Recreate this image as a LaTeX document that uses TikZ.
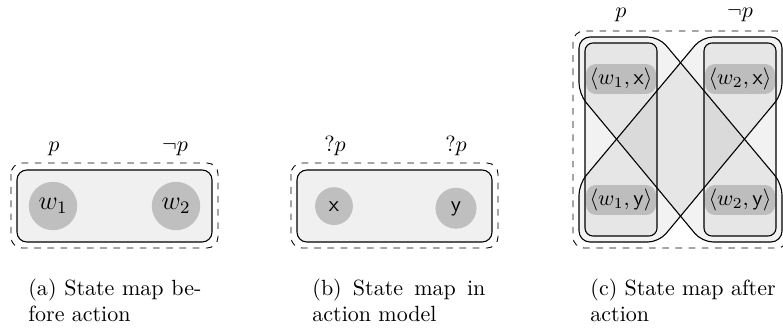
\documentclass[tikz,border=0pt]{standalone}
\definecolor{boxfill}{gray}{0.94}
\definecolor{circfill}{gray}{0.75}
\definecolor{pairfill}{gray}{0.74}
\begin{document}
\begin{tikzpicture}[x=0.4545pt,y=-0.4545pt,
  outerbox/.style={draw,dashed,rounded corners=5pt},
  innerbox/.style={draw,fill=boxfill,rounded corners=4.5pt,line width=0.5pt},
  world/.style={circle,fill=circfill,minimum size=22pt,inner sep=0pt,font=\large},
  event/.style={circle,fill=circfill,inner sep=3.8pt},
  lbl/.style={anchor=base,inner sep=0pt},
  xshape/.style={draw,fill=black,fill opacity=0.05,rounded corners=5pt,line width=0.5pt},
  column/.style={draw,fill=black,fill opacity=0.05,rounded corners=3.6pt,line width=0.5pt},
  pairlbl/.style={fill=pairfill,rounded corners=4.5pt,minimum width=31.8pt,minimum height=13.6pt,inner sep=0pt},
  captext/.style={anchor=base west,inner sep=0pt}]
\useasboundingbox (0,0) rectangle (783,329);
\begin{scope}
\clip (0,0) rectangle (783,329);
% ---------- panel (a)
\draw[outerbox] (11,163) rectangle (218,248);
\draw[innerbox] (17,170) rectangle (212,242);
\node[world] (w1) at (53,206) {$w_1$};
\node[world] (w2) at (176,206) {$w_2$};
\node[lbl] (pa) at (54,151) {$p$};
\node[lbl] (npa) at (175,151) {$\neg p$};
\node[captext] (capa1) at (28,295) {\makebox[78.6pt][s]{(a) State map be-}};
\node[captext] (capa2) at (28,321) {fore action};
% ---------- panel (b)
\draw[outerbox] (291,163) rectangle (498,248);
\draw[innerbox] (297,170) rectangle (492,242);
\node[event,anchor=base] (ex) at (334,211) {$\mathsf{x}$};
\node[event,anchor=base] (ey) at (456,211) {$\mathsf{y}$};
\node[lbl] (qa) at (335,151) {$?p$};
\node[lbl] (qb) at (456,151) {$?p$};
\node[captext] (capb1) at (312,295) {\makebox[78.6pt][s]{(b) State map in}};
\node[captext] (capb2) at (312,321) {action model};
% ---------- panel (c)
\draw[outerbox] (573,31) rectangle (788,248);
\path[xshape] (579,37) -- (659,37) -- (782,184) -- (782,242) -- (702,242) -- (579,94) -- cycle;
\path[xshape] (782,37) -- (702,37) -- (579,184) -- (579,242) -- (659,242) -- (782,94) -- cycle;
\path[column] (585,43) rectangle (657,236);
\path[column] (704,43) rectangle (776,236);
\node[pairlbl] (w1x) at (621,79) {$\langle w_1,\mathsf{x}\rangle$};
\node[pairlbl] (w1y) at (621,200) {$\langle w_1,\mathsf{y}\rangle$};
\node[pairlbl] (w2x) at (740,79) {$\langle w_2,\mathsf{x}\rangle$};
\node[pairlbl] (w2y) at (740,200) {$\langle w_2,\mathsf{y}\rangle$};
\node[lbl] (pc) at (621,18) {$p$};
\node[lbl] (npc) at (740,18) {$\neg p$};
\node[captext] (capc1) at (590,295) {(c) State map after};
\node[captext] (capc2) at (590,321) {action};
\end{scope}
\end{tikzpicture}
\end{document}
